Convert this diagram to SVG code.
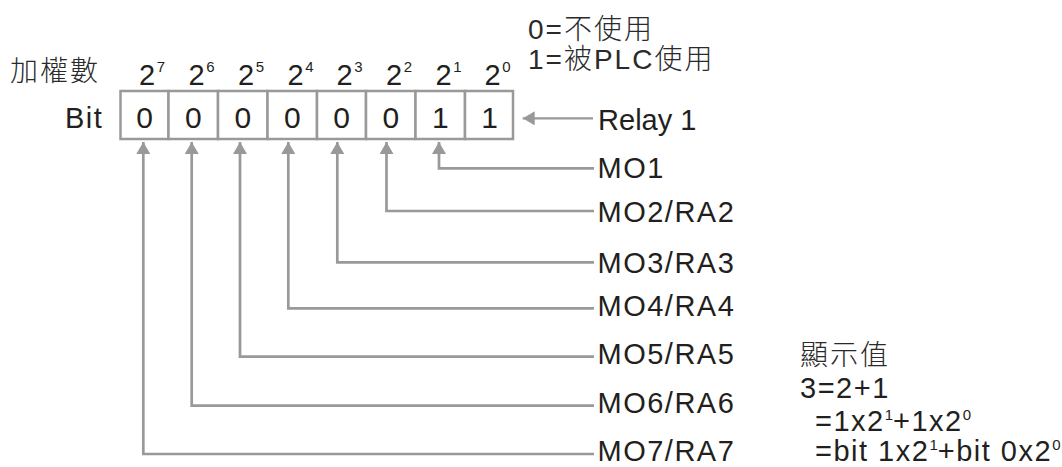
<svg xmlns="http://www.w3.org/2000/svg" width="1062" height="467" viewBox="0 0 1062 467">
  <style>
    .t { font-family: "Liberation Sans", Arial, sans-serif; font-size: 29px; fill: #231f20; letter-spacing: 1.5px; }
    .cjk { font-family: "Liberation Sans", "Noto Sans CJK TC", sans-serif; font-size: 28px; fill: #2a2a2a; letter-spacing: 2px; font-weight: 300; }
    .d { font-family: "Liberation Sans", Arial, sans-serif; font-size: 30px; fill: #231f20; text-anchor: middle; }
    .sup { font-size: 15px; letter-spacing: 0; }
    .cell { fill: #ffffff; stroke: #999999; stroke-width: 2.5; }
    .wire { fill: none; stroke: #999999; stroke-width: 2.7; }
    .thin { fill: none; stroke: #999999; stroke-width: 2.3; }
  </style>
  <defs>
    <marker id="ah" viewBox="0 0 12 14" refX="12" refY="7" markerWidth="12" markerHeight="14" markerUnits="userSpaceOnUse" orient="auto">
      <path d="M0,0 L12,7 L0,14 Z" fill="#999999"/>
    </marker>
  </defs>
  <rect width="1062" height="467" fill="#ffffff"/>

  <g id="legend">
    <text class="cjk" x="528" y="38.5">0=不使用</text>
    <text class="cjk" x="528" y="68.5">1=被PLC使用</text>
  </g>

  <g id="weights">
    <text class="cjk" x="10" y="81">加權數</text>
    <text class="t" x="139" y="85">2<tspan class="sup" dy="-12.7">7</tspan></text>
    <text class="t" x="188.5" y="85">2<tspan class="sup" dy="-12.7">6</tspan></text>
    <text class="t" x="238" y="85">2<tspan class="sup" dy="-12.7">5</tspan></text>
    <text class="t" x="287.5" y="85">2<tspan class="sup" dy="-12.7">4</tspan></text>
    <text class="t" x="336.5" y="85">2<tspan class="sup" dy="-12.7">3</tspan></text>
    <text class="t" x="386" y="85">2<tspan class="sup" dy="-12.7">2</tspan></text>
    <text class="t" x="435.5" y="85">2<tspan class="sup" dy="-12.7">1</tspan></text>
    <text class="t" x="484.5" y="85">2<tspan class="sup" dy="-12.7">0</tspan></text>
  </g>

  <g id="register">
    <text class="t" x="65" y="128">Bit</text>
    <rect class="cell" x="120.5" y="91" width="48" height="48"/>
    <rect class="cell" x="168.5" y="91" width="49.5" height="48"/>
    <rect class="cell" x="218" y="91" width="49.5" height="48"/>
    <rect class="cell" x="267.5" y="91" width="49.5" height="48"/>
    <rect class="cell" x="317" y="91" width="49" height="48"/>
    <rect class="cell" x="366" y="91" width="49.5" height="48"/>
    <rect class="cell" x="415.5" y="91" width="49.5" height="48"/>
    <rect class="cell" x="465" y="91" width="48" height="48"/>
    <text class="d" x="144.5" y="128">0</text>
    <text class="d" x="193.3" y="128">0</text>
    <text class="d" x="242.8" y="128">0</text>
    <text class="d" x="292.3" y="128">0</text>
    <text class="d" x="341.5" y="128">0</text>
    <text class="d" x="390.8" y="128">0</text>
    <text class="d" x="440.3" y="128">1</text>
    <text class="d" x="489.5" y="128">1</text>
  </g>

  <g id="connectors">
    <path class="thin" d="M593,118.3 H522.7" marker-end="url(#ah)"/>
    <path class="wire" d="M594,168.3 H439 V142" marker-end="url(#ah)"/>
    <path class="wire" d="M594,211 H386.5 V142" marker-end="url(#ah)"/>
    <path class="wire" d="M594,262.3 H337.3 V142" marker-end="url(#ah)"/>
    <path class="wire" d="M594,308.3 H288.3 V142" marker-end="url(#ah)"/>
    <path class="wire" d="M594,356.7 H240 V142" marker-end="url(#ah)"/>
    <path class="wire" d="M594,405.7 H191.7 V142" marker-end="url(#ah)"/>
    <path class="wire" d="M594,454 H143.3 V142" marker-end="url(#ah)"/>
  </g>

  <g id="outputs">
    <text class="t" x="598" y="130" textLength="100">Relay 1</text>
    <text class="t" x="597.5" y="178">MO1</text>
    <text class="t" x="597.5" y="221.5">MO2/RA2</text>
    <text class="t" x="597.5" y="272.5">MO3/RA3</text>
    <text class="t" x="597.5" y="316">MO4/RA4</text>
    <text class="t" x="597.5" y="364">MO5/RA5</text>
    <text class="t" x="597.5" y="412.5">MO6/RA6</text>
    <text class="t" x="597.5" y="460.5">MO7/RA7</text>
  </g>

  <g id="display-value">
    <text class="cjk" x="800" y="365">顯示值</text>
    <text class="t" x="800" y="398">3=2+1</text>
    <text class="t" x="815" y="431">=1x2<tspan class="sup" dy="-11">1</tspan><tspan dy="11">+1x2</tspan><tspan class="sup" dy="-11">0</tspan></text>
    <text class="t" x="815" y="460.5">=bit 1x2<tspan class="sup" dy="-11">1</tspan><tspan dy="11">+bit 0x2</tspan><tspan class="sup" dy="-11">0</tspan></text>
  </g>
</svg>
